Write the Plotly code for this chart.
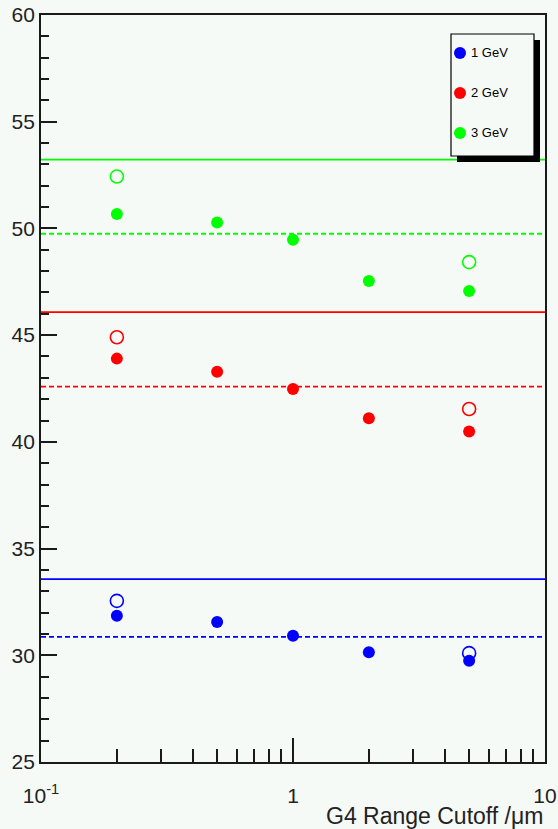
import plotly.graph_objects as go

# Range cutoff values (micrometres)
cutoffs = [0.2, 0.5, 1, 2, 5]

# Filled markers: simulated response per beam energy
resp_1gev = [31.85, 31.56, 30.92, 30.14, 29.74]
resp_2gev = [43.90, 43.29, 42.48, 41.11, 40.48]
resp_3gev = [50.68, 50.28, 49.47, 47.54, 47.07]

# Open markers: alternative values at the smallest and largest cutoff
alt_cutoffs = [0.2, 5]
alt_1gev = [32.55, 30.10]
alt_2gev = [44.90, 41.54]
alt_3gev = [52.43, 48.42]

# Horizontal reference levels (solid and dashed)
solid_ref = [33.57, 46.08, 53.22]
dashed_ref = [30.86, 42.59, 49.75]

labels = ["1 GeV", "2 GeV", "3 GeV"]
colors = ["#0000ff", "#ff0000", "#00ff00"]

x_range = [0.1, 10]
y_range = [25, 60]

bg = "#f6faf7"
frame = "#1a1a1a"
font_family = "Liberation Sans, Arial, sans-serif"

resp = [resp_1gev, resp_2gev, resp_3gev]
alts = [alt_1gev, alt_2gev, alt_3gev]

fig = go.Figure()

for i in range(3):
    fig.add_trace(go.Scatter(
        x=x_range, y=[solid_ref[i]] * 2, mode="lines",
        line=dict(color=colors[i], width=1.7), showlegend=False, hoverinfo="skip"))
    fig.add_trace(go.Scatter(
        x=x_range, y=[dashed_ref[i]] * 2, mode="lines",
        line=dict(color=colors[i], width=1.8, dash="5px,3px"),
        showlegend=False, hoverinfo="skip"))

for i in range(3):
    fig.add_trace(go.Scatter(
        x=alt_cutoffs, y=alts[i], mode="markers",
        marker=dict(symbol="circle-open", size=13, color=colors[i],
                    line=dict(width=1.6, color=colors[i])),
        showlegend=False))
    fig.add_trace(go.Scatter(
        x=cutoffs, y=resp[i], mode="markers", name=labels[i],
        marker=dict(symbol="circle", size=12, color=colors[i], line=dict(width=0)),
        showlegend=False))

# Plot-area geometry in pixels, used to place the legend box
L, R, T, B = 41, 13, 15, 67
W, H = 558, 829
pw, ph = W - L - R, H - T - B


def px(xp):
    return (xp - L) / pw


def py(yp):
    return (H - B - yp) / ph


shapes = []
# legend shadow and box
shapes.append(dict(type="rect", xref="paper", yref="paper",
                   x0=px(457), x1=px(540), y0=py(162), y1=py(40),
                   fillcolor="black", line=dict(width=0), layer="above"))
shapes.append(dict(type="rect", xref="paper", yref="paper",
                   x0=px(451), x1=px(534), y0=py(156), y1=py(34),
                   fillcolor=bg, line=dict(color="black", width=1.2), layer="above"))

annotations = []
entry_y = [53, 93, 133]
for i in range(3):
    shapes.append(dict(type="circle", xref="paper", yref="paper",
                       xsizemode="pixel", ysizemode="pixel",
                       xanchor=px(460), yanchor=py(entry_y[i]),
                       x0=-6, x1=6, y0=-6, y1=6,
                       fillcolor=colors[i], line=dict(width=0), layer="above"))
    annotations.append(dict(text=labels[i], xref="paper", yref="paper",
                            x=px(469), y=py(entry_y[i]), xanchor="left", yanchor="middle",
                            showarrow=False, font=dict(size=13, color="black", family=font_family)))

annotations.append(dict(text="G4 Range Cutoff /\u03bcm", xref="paper", yref="paper",
                        x=1, y=py(816), xanchor="right", yanchor="middle", showarrow=False,
                        font=dict(size=23, color="#222222", family=font_family)))

fig.update_layout(
    width=W, height=H,
    margin=dict(l=L, r=R, t=T, b=B, autoexpand=False),
    paper_bgcolor=bg, plot_bgcolor=bg,
    font=dict(family=font_family, color="#222222"),
    shapes=shapes, annotations=annotations,
    showlegend=False,
    xaxis=dict(
        type="log", range=[-1, 1], automargin=False,
        tickmode="array", tickvals=[0.1, 1, 10],
        ticktext=["10<sup>-1</sup>", "1", "10"],
        ticks="inside", ticklen=24, tickwidth=1.5, tickcolor=frame,
        minor=dict(tickmode="array",
                   tickvals=[0.2, 0.3, 0.4, 0.5, 0.6, 0.7, 0.8, 0.9,
                             2, 3, 4, 5, 6, 7, 8, 9],
                   ticks="inside", ticklen=13, tickwidth=1.5, tickcolor=frame,
                   showgrid=False),
        showline=True, linecolor=frame, linewidth=1.8, mirror=True,
        showgrid=False, zeroline=False,
        tickfont=dict(size=21, family=font_family, color="#222222"),
        ticklabelstandoff=14,
    ),
    yaxis=dict(
        range=y_range, automargin=False,
        tickmode="array", tickvals=[25, 30, 35, 40, 45, 50, 55, 60],
        ticks="inside", ticklen=16, tickwidth=1.5, tickcolor=frame,
        minor=dict(dtick=1, ticks="inside", ticklen=8, tickwidth=1.5,
                   tickcolor=frame, showgrid=False),
        showline=True, linecolor=frame, linewidth=1.8, mirror=True,
        showgrid=False, zeroline=False,
        tickfont=dict(size=21, family=font_family, color="#222222"),
    ),
)

fig.write_html("out.html")
